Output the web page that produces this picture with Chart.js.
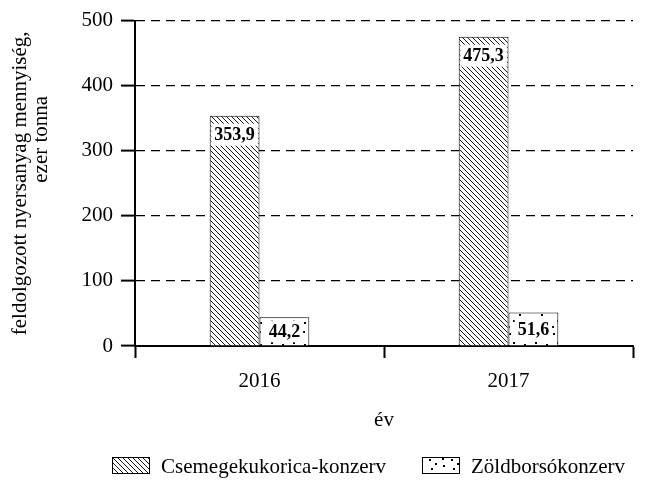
<!DOCTYPE html>
<html>
<head>
<meta charset="utf-8">
<script src="https://cdn.jsdelivr.net/npm/chart.js@4/dist/chart.umd.min.js"></script>
<style>
	html, body { margin: 0; padding: 0; background: #fff; }
</style>
</head>
<body>
<canvas id="barChart" width="646" height="480"></canvas>
<script>
const years = ['2016', '2017'];
const seriesNames = ['Csemegekukorica-konzerv', 'Zöldborsókonzerv'];
const cornValues = [353.9, 475.3];
const peaValues = [44.2, 51.6];
const yTickValues = [0, 100, 200, 300, 400, 500];
const yTitle = ['feldolgozott nyersanyag mennyiség,', 'ezer tonna'];
const xTitle = 'év';

const SERIF = '"Liberation Serif", "Times New Roman", serif';

const canvas = document.querySelector('#barChart');
const mainCtx = canvas.getContext('2d');

const makeHatch = () => {
	const tile = document.createElement('canvas');
	tile.width = 5;
	tile.height = 5;
	const g = tile.getContext('2d');
	g.fillStyle = '#fff';
	g.fillRect(0, 0, 5, 5);
	g.strokeStyle = '#000';
	g.lineWidth = 0.9;
	g.beginPath();
	for (let k = -5; k <= 5; k += 5) {
		g.moveTo(k, 0);
		g.lineTo(k + 5, 5);
	}
	g.stroke();
	return mainCtx.createPattern(tile, 'repeat');
};

const makeDots = () => {
	const tile = document.createElement('canvas');
	tile.width = 22;
	tile.height = 22;
	const g = tile.getContext('2d');
	g.fillStyle = '#fff';
	g.fillRect(0, 0, 22, 22);
	g.fillStyle = '#000';
	[[3, 3], [13, 6], [7, 12], [18, 14], [2, 18], [11, 19], [17, 1]].forEach(([x, y]) => {
		g.fillRect(x, y, 2, 2);
	});
	return mainCtx.createPattern(tile, 'repeat');
};

const valueLabels = {
	id: 'valueLabels',
	afterDatasetsDraw(chart) {
		const ctx = chart.ctx;
		ctx.save();
		ctx.font = 'bold 18px ' + SERIF;
		ctx.textAlign = 'center';
		ctx.textBaseline = 'middle';
		chart.data.datasets.forEach((ds, i) => {
			chart.getDatasetMeta(i).data.forEach((bar, j) => {
				const txt = ds.data[j].toFixed(1).replace('.', ',');
				const w = ctx.measureText(txt).width + 6;
				const cy = Math.min(bar.y + 19, (bar.y + bar.base) / 2);
				ctx.fillStyle = '#fff';
				ctx.fillRect(bar.x - w / 2, cy - 11, w, 22);
				ctx.fillStyle = '#000';
				ctx.fillText(txt, bar.x, cy + 1);
			});
		});
		ctx.restore();
	},
};

// legend and y title drawn by hand, the reference places them a bit oddly
const extraText = {
	id: 'extraText',
	afterDraw(chart) {
		const ctx = chart.ctx;
		const starts = [112, 422];
		ctx.save();
		ctx.font = '21px ' + SERIF;
		ctx.textBaseline = 'middle';
		chart.data.datasets.forEach((ds, i) => {
			const x = starts[i];
			ctx.fillStyle = ds.backgroundColor;
			ctx.fillRect(x, 457, 37, 16);
			ctx.strokeStyle = '#000';
			ctx.lineWidth = 1;
			ctx.strokeRect(x + 0.5, 457.5, 37, 16);
			ctx.fillStyle = '#000';
			ctx.fillText(ds.label, x + 49, 467);
		});

		const mid = (chart.chartArea.top + chart.chartArea.bottom) / 2;
		ctx.textAlign = 'center';
		ctx.translate(20, mid);
		ctx.rotate(-Math.PI / 2);
		ctx.fillText(yTitle[0], 0, 0);
		ctx.fillText(yTitle[1], 44, 21);
		ctx.restore();
	},
};

const chartData = {
	labels: years,
	datasets: [
		{
			label: seriesNames[0],
			data: cornValues,
			backgroundColor: makeHatch(),
			borderColor: '#000',
			borderWidth: 1,
		},
		{
			label: seriesNames[1],
			data: peaValues,
			backgroundColor: makeDots(),
			borderColor: '#000',
			borderWidth: 1,
		},
	],
};

new Chart(canvas, {
	type: 'bar',
	data: chartData,
	plugins: [valueLabels, extraText],
	options: {
		responsive: false,
		animation: false,
		categoryPercentage: 0.4,
		barPercentage: 1,
		layout: { padding: { top: 19, right: 13, bottom: 0, left: 0 } },
		plugins: {
			legend: { display: false },
			tooltip: { enabled: false },
		},
		scales: {
			x: {
				afterFit: (scale) => { scale.height = 134; },
				grid: {
					drawOnChartArea: false,
					offset: true,
					color: '#000',
					tickLength: 12,
					tickWidth: 2,
				},
				border: { color: '#000', width: 2 },
				ticks: { color: '#000', padding: 11, font: { family: SERIF, size: 21 } },
				title: {
					display: true,
					text: xTitle,
					color: '#000',
					font: { family: SERIF, size: 21 },
					padding: { top: 10, bottom: 47 },
				},
			},
			y: {
				min: 0,
				max: 500,
				afterFit: (scale) => { scale.width = 135; },
				afterBuildTicks: (scale) => {
					scale.ticks = yTickValues.map((v) => ({ value: v }));
				},
				grid: {
					color: '#000',
					lineWidth: 1.2,
					tickLength: 14,
					tickWidth: 2,
					tickBorderDash: [],
				},
				border: { color: '#000', width: 2, dash: [9, 6] },
				ticks: { color: '#000', padding: 8, font: { family: SERIF, size: 21 } },
			},
		},
	},
});
</script>
</body>
</html>
